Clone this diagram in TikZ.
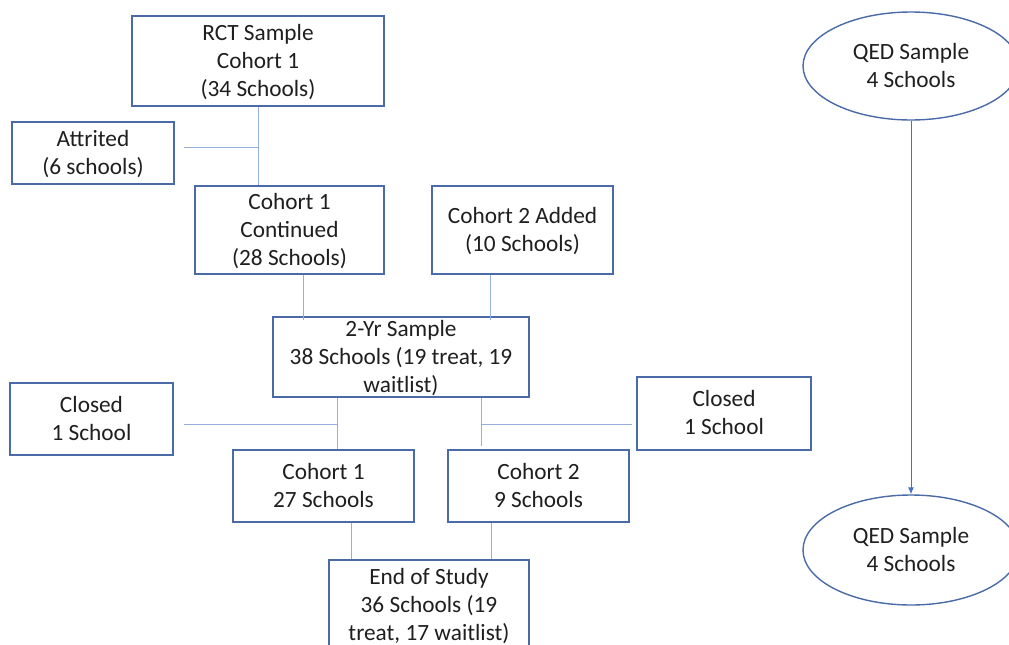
\documentclass[tikz,border=0pt]{standalone}
\usepackage{fontspec}
\setmainfont{Carlito}
\usetikzlibrary{shapes.geometric,arrows.meta}
\definecolor{boxc}{HTML}{4A6BA8}
\definecolor{linec}{HTML}{95AEDB}
\definecolor{arrc}{HTML}{4472C4}
\definecolor{txtc}{HTML}{1F1F1F}
\tikzset{
  box/.style={draw=boxc, line width=1.4pt, fill=white, inner sep=0pt, align=center,
    text=txtc, font=\fontsize{23.3}{28}\selectfont, text depth=1.5pt},
  oval/.style={ellipse, draw=boxc, line width=1.4pt, fill=white, inner sep=0pt, align=center,
    text=txtc, font=\fontsize{23.3}{28}\selectfont, text depth=1.5pt},
  conn/.style={draw=linec, line width=1pt},
  arr/.style={draw=arrc, line width=1pt, -{Latex[length=7pt,width=6pt]}}
}
\begin{document}
\begin{tikzpicture}[x=1pt,y=-1pt]
\useasboundingbox (0,0) rectangle (1009,645);
\fill[white] (0,0) rectangle (1009,645);

\node[box, minimum width=252pt, minimum height=90pt] (rct) at (258,61) {RCT Sample\\Cohort 1\\(34 Schools)};
\node[box, minimum width=162pt, minimum height=62pt] (att) at (93,153) {Attrited\\(6 schools)};
\node[box, minimum width=189pt, minimum height=88pt] (c1c) at (289.5,230) {Cohort 1\\Continued\\(28 Schools)};
\node[box, minimum width=181pt, minimum height=88pt] (c2a) at (522.5,230) {Cohort 2 Added\\(10 Schools)};
\node[box, minimum width=256pt, minimum height=80pt] (yr2) at (401,357) {2-Yr Sample\\38 Schools (19 treat, 19\\waitlist)};
\node[box, minimum width=163pt, minimum height=72pt] (clL) at (91.5,419) {Closed\\1 School};
\node[box, minimum width=174pt, minimum height=73pt] (clR) at (724,413.5) {Closed\\1 School};
\node[box, minimum width=181pt, minimum height=72pt] (c1) at (323.5,486) {Cohort 1\\27 Schools};
\node[box, minimum width=181pt, minimum height=72pt] (c2) at (538.5,486) {Cohort 2\\9 Schools};
\node[box, minimum width=200pt, minimum height=90pt] (end) at (429,605) {End of Study\\36 Schools (19\\treat, 17 waitlist)};
\node[oval, minimum width=216pt, minimum height=108pt] (q1) at (911,66) {QED Sample\\4 Schools};
\node[oval, minimum width=216pt, minimum height=110pt] (q2) at (911,550) {QED Sample\\4 Schools};

% connectors
\draw[conn] (rct.south) -- (rct.south |- c1c.north);
\coordinate (attj) at (rct.south |- 0,147);
\draw[conn] ([xshift=9pt]att.east |- attj) -- (attj);
\coordinate (c1cx) at (303,0);
\coordinate (c2ax) at (490,0);
\draw[conn] (c1c.south -| c1cx) -- ([yshift=-4pt]yr2.north -| c1cx);
\draw[conn] (c2a.south -| c2ax) -- ([yshift=-4pt]yr2.north -| c2ax);
\coordinate (jl) at (337,424);
\coordinate (jr) at (481,424);
\draw[conn] (yr2.south -| jl) -- (c1.north -| jl);
\draw[conn] ([xshift=10pt]clL.east |- jl) -- (jl);
\draw[conn] (yr2.south -| jr) -- ([yshift=3pt]c2.north -| jr);
\draw[conn] (jr) -- ([xshift=-4pt]clR.west |- jr);
\coordinate (el) at (351,0);
\coordinate (er) at (491,0);
\draw[conn] (c1.south -| el) -- (end.north -| el);
\draw[conn] (c2.south -| er) -- (end.north -| er);
\draw[arr] (q1.south) -- (q2.north);
\end{tikzpicture}
\end{document}
